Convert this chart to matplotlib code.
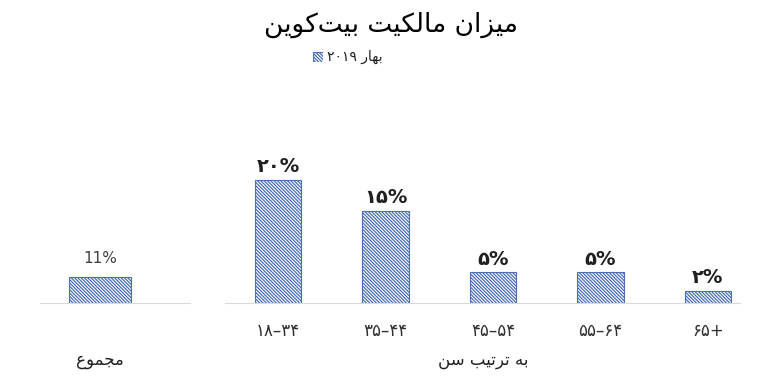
import matplotlib
matplotlib.use('Agg')
import matplotlib.pyplot as plt

# forms: isolated, final, initial, medial (None = right-joining only)
FORMS = {
    'ا': ('\uFE8D', '\uFE8E', None, None),
    'ب': ('\uFE8F', '\uFE90', '\uFE91', '\uFE92'),
    'ت': ('\uFE95', '\uFE96', '\uFE97', '\uFE98'),
    'ج': ('\uFE9D', '\uFE9E', '\uFE9F', '\uFEA0'),
    'ر': ('\uFEAD', '\uFEAE', None, None),
    'ز': ('\uFEAF', '\uFEB0', None, None),
    'س': ('\uFEB1', '\uFEB2', '\uFEB3', '\uFEB4'),
    'ع': ('\uFEC9', '\uFECA', '\uFECB', '\uFECC'),
    'ل': ('\uFEDD', '\uFEDE', '\uFEDF', '\uFEE0'),
    'م': ('\uFEE1', '\uFEE2', '\uFEE3', '\uFEE4'),
    'ن': ('\uFEE5', '\uFEE6', '\uFEE7', '\uFEE8'),
    'ه': ('\uFEE9', '\uFEEA', '\uFEEB', '\uFEEC'),
    'و': ('\uFEED', '\uFEEE', None, None),
    'ک': ('\uFB8E', '\uFB8F', '\uFB90', '\uFB91'),
    'ی': ('\uFBFC', '\uFBFD', '\uFBFE', '\uFBFF'),
}


def shape(text):
    '''Join Persian letters and reverse them for left-to-right drawing.'''
    out = []
    n = len(text)
    for i, ch in enumerate(text):
        if ch not in FORMS:
            if ch != '\u200c':
                out.append(ch)
            continue
        prev = text[i - 1] if i > 0 else ''
        nxt = text[i + 1] if i < n - 1 else ''
        join_prev = prev in FORMS and FORMS[prev][2] is not None
        join_next = nxt in FORMS and FORMS[ch][2] is not None
        iso, fin, ini, med = FORMS[ch]
        if join_prev and join_next:
            out.append(med)
        elif join_prev:
            out.append(fin)
        elif join_next:
            out.append(ini)
        else:
            out.append(iso)
    return ''.join(reversed(out))


title = 'میزان مالکیت بیت\u200cکوین'
legend_label = 'بهار'
legend_year = '۲۰۱۹'
total_label = 'مجموع'
total_value = 11
total_text = '11%'
age_group_label = 'به ترتیب سن'
age_groups = ['۱۸–۳۴', '۳۵–۴۴', '۴۵–۵۴', '۵۵–۶۴', '۶۵+']
age_values = [20, 15, 5, 5, 2]
age_texts = ['۲۰%', '۱۵%', '۵%', '۵%', '۲%']

plt.rcParams['font.family'] = ['DejaVu Sans']
plt.rcParams['hatch.linewidth'] = 0.9
plt.rcParams['hatch.color'] = '#4a6fb5'

fig = plt.figure(figsize=(7.81, 3.86), dpi=100)
bar_kw = dict(color='white', edgecolor='#4a6fb5', hatch='\\' * 10, linewidth=0.8)

# left: overall
ax1 = fig.add_axes([40 / 781, 1 - 303 / 386, 150 / 781, 200 / 386])
ax1.bar([0], [total_value], width=0.407, **bar_kw)
ax1.set_xlim(-0.4, 0.6)
ax1.set_ylim(0, 84.7)
ax1.text(0, total_value + 4.5, total_text, ha='center', va='bottom',
         fontsize=11, color='#404040')

# right: by age
ax2 = fig.add_axes([225 / 781, 1 - 303 / 386, 515 / 781, 200 / 386])
x = list(range(len(age_groups)))
ax2.bar(x, age_values, width=0.43, **bar_kw)
ax2.set_xlim(-0.493, 4.298)
ax2.set_ylim(0, 32.5)
for xi, v, t in zip(x, age_values, age_texts):
    ax2.text(xi, v + 0.6, t, ha='center', va='bottom', fontsize=14,
             fontweight='bold', color='#202020')

for ax in (ax1, ax2):
    for s in ('top', 'right', 'left'):
        ax.spines[s].set_visible(False)
    ax.spines['bottom'].set_color('#d9d9d9')
    ax.set_yticks([])
    ax.tick_params(axis='x', length=0, pad=14, labelsize=12, colors='#303030')

ax1.set_xticks([])
ax2.set_xticks(x)
ax2.set_xticklabels(age_groups)

fig.text(100 / 781, 1 - 360 / 386, shape(total_label), ha='center', va='center',
         fontsize=12, color='#202020')
fig.text(483 / 781, 1 - 360 / 386, shape(age_group_label), ha='center', va='center',
         fontsize=12, color='#202020')

fig.text(0.5, 1 - 25 / 386, shape(title), ha='center', va='center',
         fontsize=19, color='black')

# legend: hatched square on the left of the label
lx = fig.add_axes([313 / 781, 1 - 62 / 386, 10 / 781, 10 / 386])
lx.bar([0], [1], width=1, **bar_kw)
lx.set_xlim(-0.5, 0.5)
lx.set_ylim(0, 1)
lx.axis('off')
fig.text(327 / 781, 1 - 57 / 386, legend_year + ' ' + shape(legend_label),
         ha='left', va='center', fontsize=10, color='#202020')

fig.savefig('out.png', dpi=100)
